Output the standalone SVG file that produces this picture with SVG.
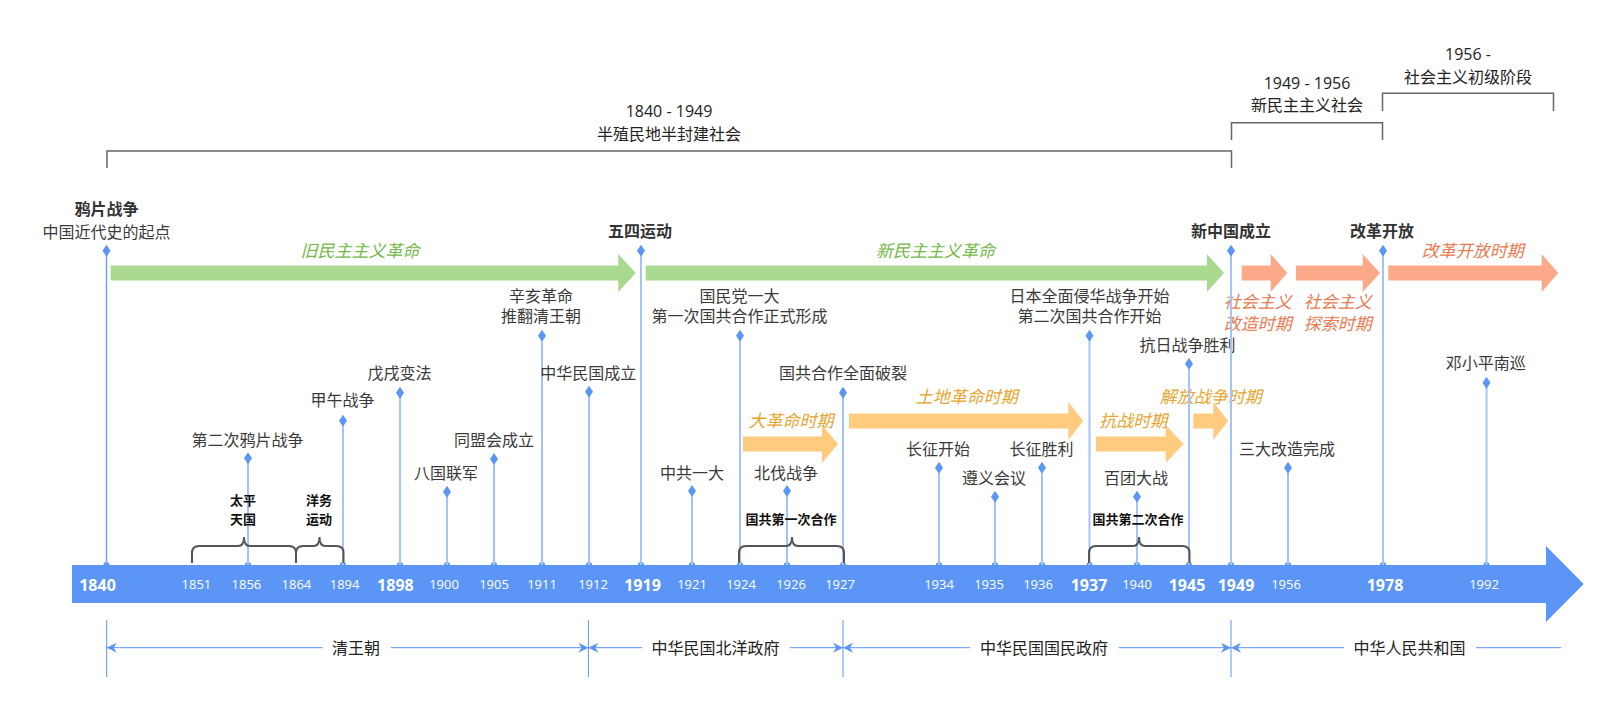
<svg xmlns="http://www.w3.org/2000/svg" width="1622" height="716" viewBox="0 0 1622 716">
<style>
text{font-family:"Open Sans","Noto Sans CJK SC",sans-serif;text-anchor:middle}
.ev{font-size:16px;fill:#3a3a3a}
.evb{font-size:16px;fill:#333;font-weight:bold}
.yr{font-size:13px;fill:#fff}
.yrb{font-size:16px;fill:#fff;font-weight:bold}
.br{font-size:13px;fill:#111;font-weight:bold}
.top{font-size:16px;fill:#222}
.dim{font-size:16px;fill:#222}
.it{font-size:17px;font-style:italic}
.gt{fill:#74b94a}.ot{fill:#e6a52e}.st{fill:#ea7a50}
.ga{fill:#a9d88f}.oa{fill:#fecb7f}.sa{fill:#fca98a}
.stem{stroke:#a3c4fb;stroke-width:2}
.stem0{stroke:#6ea2f7;stroke-width:1.5}
.dia{fill:#5b96f7}
.brace{fill:none;stroke:#555;stroke-width:2}
.bk{fill:none;stroke:#666;stroke-width:1.5}
.dl{stroke:#5b96f7;stroke-width:1;fill:none}
</style>
<defs>
<path id="d" d="M0,-6 L4,0 L0,6 L-4,0 Z"/>
<marker id="ah" viewBox="0 0 10 10" refX="10" refY="5" markerWidth="10" markerHeight="10" markerUnits="userSpaceOnUse" orient="auto-start-reverse">
<path d="M0,0 L10,5 L0,10 L3,5 Z" fill="#5b96f7"/>
</marker>
</defs>

<g id="eras">
<path class="bk" d="M107,168 V151 H1231.5 V168"/>
<text class="top" x="669" y="117">1840 - 1949</text>
<text class="top" x="669" y="139.5">半殖民地半封建社会</text>
<path class="bk" d="M1231.5,140 V122.7 H1382.5 V140"/>
<text class="top" x="1307" y="89">1949 - 1956</text>
<text class="top" x="1307" y="111">新民主主义社会</text>
<path class="bk" d="M1382.5,111 V93.3 H1553.5 V111"/>
<text class="top" x="1468" y="60">1956 -</text>
<text class="top" x="1468" y="82.7">社会主义初级阶段</text>
</g>

<g id="phases">
<polygon class="ga" points="110.7,265.5 618.3,265.5 618.3,254 635.7,273 618.3,292 618.3,280.5 110.7,280.5"/>
<text class="it gt" x="360" y="256.5">旧民主主义革命</text>
<polygon class="ga" points="645.7,265.5 1207,265.5 1207,254 1224,273 1207,292 1207,280.5 645.7,280.5"/>
<text class="it gt" x="935.5" y="256.5">新民主主义革命</text>
<polygon class="sa" points="1241.7,265.5 1270.7,265.5 1270.7,254 1287.3,273 1270.7,292 1270.7,280.5 1241.7,280.5"/>
<text class="it st" x="1257.7" y="308">社会主义</text>
<text class="it st" x="1257.7" y="329.5">改造时期</text>
<polygon class="sa" points="1296,265.5 1362.7,265.5 1362.7,254 1380,273 1362.7,292 1362.7,280.5 1296,280.5"/>
<text class="it st" x="1337.7" y="308">社会主义</text>
<text class="it st" x="1337.7" y="329.5">探索时期</text>
<polygon class="sa" points="1388.3,265.5 1541.7,265.5 1541.7,254 1558.3,273 1541.7,292 1541.7,280.5 1388.3,280.5"/>
<text class="it st" x="1472.8" y="256.5">改革开放时期</text>
<polygon class="oa" points="743,436.5 822,436.5 822,425 838,444 822,463 822,451.5 743,451.5"/>
<text class="it ot" x="791" y="426.5">大革命时期</text>
<polygon class="oa" points="849,413.5 1068.3,413.5 1068.3,402 1083.3,421 1068.3,440 1068.3,428.5 849,428.5"/>
<text class="it ot" x="966.7" y="403">土地革命时期</text>
<polygon class="oa" points="1096,436.5 1165.7,436.5 1165.7,425 1183.7,444 1165.7,463 1165.7,451.5 1096,451.5"/>
<text class="it ot" x="1133.3" y="426.5">抗战时期</text>
<polygon class="oa" points="1193.3,413.5 1213.3,413.5 1213.3,402 1228.3,421 1213.3,440 1213.3,428.5 1193.3,428.5"/>
<text class="it ot" x="1210.8" y="403">解放战争时期</text>
</g>

<g id="axis">
<rect x="72" y="565" width="1474" height="38" fill="#5b96f7"/>
<polygon points="1546,546 1583.7,584 1546,622" fill="#5b96f7"/>
<g fill="#5b96f7">
<circle cx="106.5" cy="565" r="3"/><circle cx="248" cy="565" r="3"/><circle cx="343" cy="565" r="3"/><circle cx="400" cy="565" r="3"/><circle cx="447" cy="565" r="3"/><circle cx="494" cy="565" r="3"/><circle cx="542" cy="565" r="3"/><circle cx="589" cy="565" r="3"/><circle cx="641" cy="565" r="3"/><circle cx="692" cy="565" r="3"/><circle cx="740" cy="565" r="3"/><circle cx="787" cy="565" r="3"/><circle cx="843" cy="565" r="3"/><circle cx="939" cy="565" r="3"/><circle cx="995" cy="565" r="3"/><circle cx="1042" cy="565" r="3"/><circle cx="1089.5" cy="565" r="3"/><circle cx="1137" cy="565" r="3"/><circle cx="1189" cy="565" r="3"/><circle cx="1231" cy="565" r="3"/><circle cx="1288" cy="565" r="3"/><circle cx="1383" cy="565" r="3"/><circle cx="1486.5" cy="565" r="3"/>
</g>
<text class="yrb" x="97.5" y="590.5">1840</text>
<text class="yr" x="196.4" y="589">1851</text>
<text class="yr" x="246.4" y="589">1856</text>
<text class="yr" x="296.4" y="589">1864</text>
<text class="yr" x="344.6" y="589">1894</text>
<text class="yrb" x="395.4" y="590.5">1898</text>
<text class="yr" x="444" y="589">1900</text>
<text class="yr" x="494" y="589">1905</text>
<text class="yr" x="542" y="589">1911</text>
<text class="yr" x="593" y="589">1912</text>
<text class="yrb" x="642.5" y="590.5">1919</text>
<text class="yr" x="692" y="589">1921</text>
<text class="yr" x="741" y="589">1924</text>
<text class="yr" x="791" y="589">1926</text>
<text class="yr" x="840" y="589">1927</text>
<text class="yr" x="939" y="589">1934</text>
<text class="yr" x="989" y="589">1935</text>
<text class="yr" x="1038" y="589">1936</text>
<text class="yrb" x="1089" y="590.5">1937</text>
<text class="yr" x="1137" y="589">1940</text>
<text class="yrb" x="1187" y="590.5">1945</text>
<text class="yrb" x="1236" y="590.5">1949</text>
<text class="yr" x="1286" y="589">1956</text>
<text class="yrb" x="1385" y="590.5">1978</text>
<text class="yr" x="1484" y="589">1992</text>
</g>

<g id="ev-1840"><line class="stem0" x1="106.5" y1="251" x2="106.5" y2="565"/><use href="#d" class="dia" x="106.5" y="250.7"/><text class="evb" x="106.5" y="215">鸦片战争</text><text class="ev" x="106.5" y="237.7">中国近代史的起点</text></g>
<g id="ev-1856"><line class="stem" x1="248" y1="458" x2="248" y2="565"/><use href="#d" class="dia" x="248" y="458.3"/><text class="ev" x="247.5" y="446">第二次鸦片战争</text></g>
<g id="ev-1894"><line class="stem" x1="343" y1="421" x2="343" y2="565"/><use href="#d" class="dia" x="343" y="420.7"/><text class="ev" x="342.5" y="406">甲午战争</text></g>
<g id="ev-1898"><line class="stem" x1="400" y1="393" x2="400" y2="565"/><use href="#d" class="dia" x="400" y="392.7"/><text class="ev" x="399.5" y="379.3">戊戌变法</text></g>
<g id="ev-1900"><line class="stem" x1="447" y1="492" x2="447" y2="565"/><use href="#d" class="dia" x="447" y="491.7"/><text class="ev" x="446" y="479.3">八国联军</text></g>
<g id="ev-1905"><line class="stem" x1="494" y1="459" x2="494" y2="565"/><use href="#d" class="dia" x="494" y="459"/><text class="ev" x="494" y="446.3">同盟会成立</text></g>
<g id="ev-1911"><line class="stem" x1="542" y1="336" x2="542" y2="565"/><use href="#d" class="dia" x="542" y="335.7"/><text class="ev" x="541" y="302">辛亥革命</text><text class="ev" x="541" y="322">推翻清王朝</text></g>
<g id="ev-1912"><line class="stem" x1="589" y1="392" x2="589" y2="565"/><use href="#d" class="dia" x="589" y="391.7"/><text class="ev" x="588.3" y="378.7">中华民国成立</text></g>
<g id="ev-1919"><line class="stem" x1="641" y1="251" x2="641" y2="565"/><use href="#d" class="dia" x="641" y="250.7"/><text class="evb" x="640" y="236.7">五四运动</text></g>
<g id="ev-1921"><line class="stem" x1="692" y1="491" x2="692" y2="565"/><use href="#d" class="dia" x="692" y="491"/><text class="ev" x="692" y="479.3">中共一大</text></g>
<g id="ev-1924"><line class="stem" x1="740" y1="336" x2="740" y2="565"/><use href="#d" class="dia" x="740" y="335.7"/><text class="ev" x="739.5" y="302">国民党一大</text><text class="ev" x="739.5" y="322">第一次国共合作正式形成</text></g>
<g id="ev-1926"><line class="stem" x1="787" y1="491" x2="787" y2="565"/><use href="#d" class="dia" x="787" y="491"/><text class="ev" x="786" y="479.3">北伐战争</text></g>
<g id="ev-1927"><line class="stem" x1="843" y1="393" x2="843" y2="565"/><use href="#d" class="dia" x="843" y="392.7"/><text class="ev" x="843" y="379.4">国共合作全面破裂</text></g>
<g id="ev-1934"><line class="stem" x1="939" y1="468" x2="939" y2="565"/><use href="#d" class="dia" x="939" y="467.7"/><text class="ev" x="938" y="455.3">长征开始</text></g>
<g id="ev-1935"><line class="stem" x1="995" y1="497" x2="995" y2="565"/><use href="#d" class="dia" x="995" y="496.7"/><text class="ev" x="994" y="484.3">遵义会议</text></g>
<g id="ev-1936"><line class="stem" x1="1042" y1="468" x2="1042" y2="565"/><use href="#d" class="dia" x="1042" y="467.7"/><text class="ev" x="1041.6" y="455.3">长征胜利</text></g>
<g id="ev-1937"><line class="stem" x1="1089.5" y1="336" x2="1089.5" y2="565"/><use href="#d" class="dia" x="1089.5" y="335.7"/><text class="ev" x="1089.5" y="302">日本全面侵华战争开始</text><text class="ev" x="1089.5" y="322">第二次国共合作开始</text></g>
<g id="ev-1940"><line class="stem" x1="1137" y1="497" x2="1137" y2="565"/><use href="#d" class="dia" x="1137" y="496.7"/><text class="ev" x="1136" y="484.3">百团大战</text></g>
<g id="ev-1945"><line class="stem" x1="1189" y1="364" x2="1189" y2="565"/><use href="#d" class="dia" x="1189" y="363.7"/><text class="ev" x="1187.5" y="351">抗日战争胜利</text></g>
<g id="ev-1949"><line class="stem" x1="1231" y1="251" x2="1231" y2="565"/><use href="#d" class="dia" x="1231" y="250.7"/><text class="evb" x="1231" y="236.7">新中国成立</text></g>
<g id="ev-1956"><line class="stem" x1="1288" y1="468" x2="1288" y2="565"/><use href="#d" class="dia" x="1288" y="467.7"/><text class="ev" x="1287" y="455.3">三大改造完成</text></g>
<g id="ev-1978"><line class="stem" x1="1383" y1="251" x2="1383" y2="565"/><use href="#d" class="dia" x="1383" y="250.7"/><text class="evb" x="1382" y="236.7">改革开放</text></g>
<g id="ev-1992"><line class="stem" x1="1486.5" y1="383" x2="1486.5" y2="565"/><use href="#d" class="dia" x="1486.5" y="382.7"/><text class="ev" x="1485.7" y="369.3">邓小平南巡</text></g>

<g id="braces">
<path class="brace" d="M192,563 V553 Q192,546 199,546 H238 Q244,546 244,537 Q244,546 250,546 H289 Q296,546 296,553 V563"/>
<text class="br" x="243" y="505">太平</text><text class="br" x="243" y="524">天国</text>
<path class="brace" d="M296,563 V553 Q296,546 303,546 H313.5 Q319.5,546 319.5,537 Q319.5,546 325.5,546 H336.5 Q343.5,546 343.5,553 V563"/>
<text class="br" x="319" y="505">洋务</text><text class="br" x="319" y="524">运动</text>
<path class="brace" d="M739,563 V553 Q739,546 746,546 H786 Q792,546 792,537 Q792,546 798,546 H837 Q844,546 844,553 V563"/>
<text class="br" x="791" y="524">国共第一次合作</text>
<path class="brace" d="M1089,563 V553 Q1089,546 1096,546 H1133 Q1139,546 1139,537 Q1139,546 1145,546 H1182.5 Q1189.5,546 1189.5,553 V563"/>
<text class="br" x="1138" y="524">国共第二次合作</text>
</g>

<g id="connectors">
<line class="dl" x1="106.7" y1="620" x2="106.7" y2="677"/>
<line class="dl" x1="588.4" y1="620" x2="588.4" y2="677"/>
<line class="dl" x1="843" y1="620" x2="843" y2="677"/>
<line class="dl" x1="1231" y1="620" x2="1231" y2="677"/>
<line class="dl" x1="106.7" y1="647.7" x2="322.7" y2="647.7" marker-start="url(#ah)"/>
<line class="dl" x1="391" y1="647.7" x2="588.4" y2="647.7" marker-end="url(#ah)"/>
<line class="dl" x1="588.4" y1="647.7" x2="642" y2="647.7" marker-start="url(#ah)"/>
<line class="dl" x1="790" y1="647.7" x2="843" y2="647.7" marker-end="url(#ah)"/>
<line class="dl" x1="843" y1="647.7" x2="970" y2="647.7" marker-start="url(#ah)"/>
<line class="dl" x1="1118.7" y1="647.7" x2="1231" y2="647.7" marker-end="url(#ah)"/>
<line class="dl" x1="1231" y1="647.7" x2="1344" y2="647.7" marker-start="url(#ah)"/>
<line class="dl" x1="1476" y1="647.7" x2="1561" y2="647.7"/>
<text class="dim" x="356" y="653.7">清王朝</text>
<text class="dim" x="715.5" y="653.7">中华民国北洋政府</text>
<text class="dim" x="1044" y="653.7">中华民国国民政府</text>
<text class="dim" x="1409.5" y="653.7">中华人民共和国</text>
</g>
</svg>
